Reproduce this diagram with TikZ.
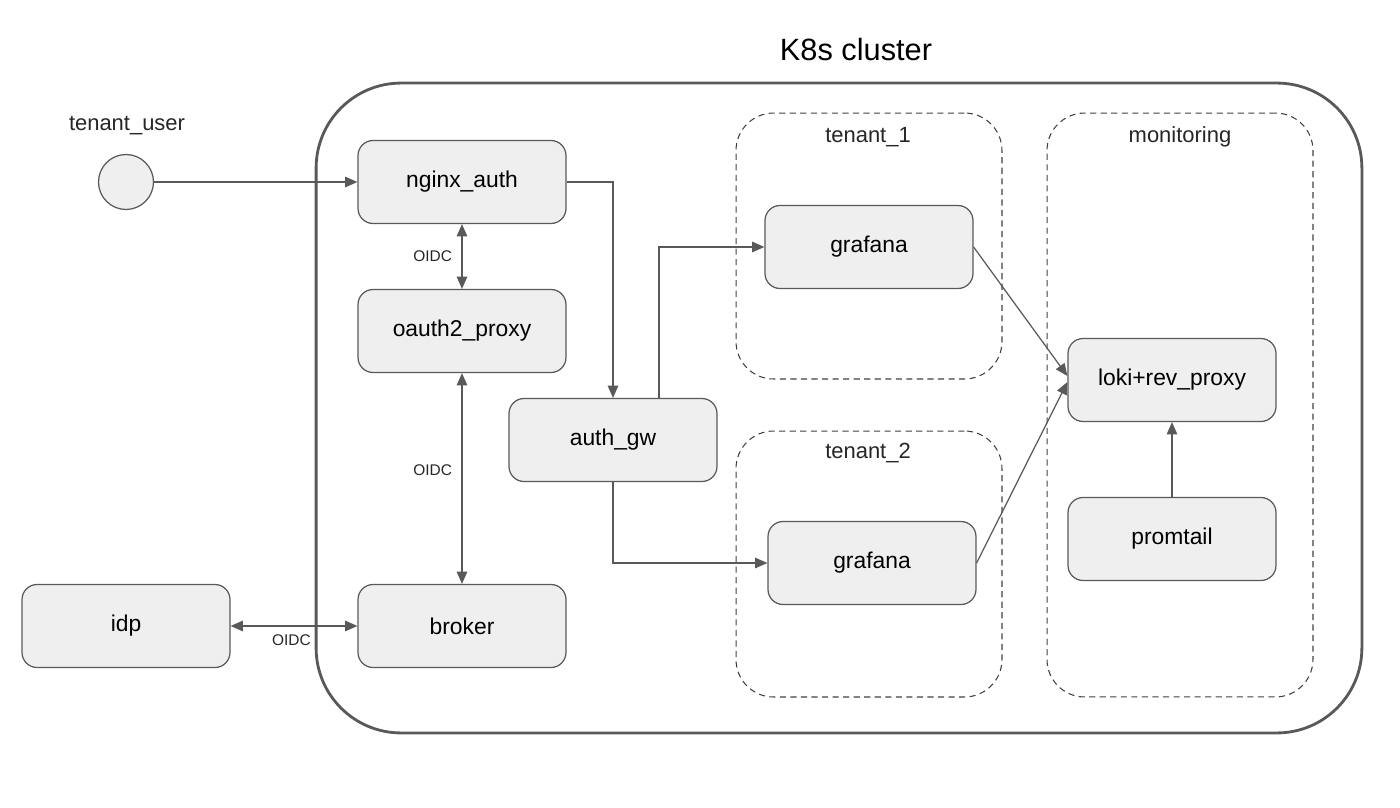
\documentclass[tikz,border=0pt]{standalone}
\usepackage{fontspec}
\setmainfont{Liberation Sans}
\usetikzlibrary{arrows.meta,positioning,calc}
\definecolor{linegray}{HTML}{595959}
\definecolor{boxfill}{HTML}{EFEFEF}

\begin{document}
\begin{tikzpicture}[x=0.02cm, y=-0.02cm,
    box/.style={draw=linegray, fill=boxfill, line width=0.7pt, rounded corners=0.3cm, minimum width=4.16cm, minimum height=1.66cm, font=\fontsize{13}{15}\selectfont},
    group/.style={draw=black!75, dash pattern=on 3.5pt off 2.5pt, line width=0.6pt, rounded corners=0.75cm},
    grouplabel/.style={font=\fontsize{12.5}{15}\selectfont, text=black!85},
    oidc/.style={font=\fontsize{8.8}{10}\selectfont, text=black!85},
    conn/.style={draw=linegray, line width=0.7pt, -{Triangle[length=7pt,width=6pt]}},
    biconn/.style={draw=linegray, line width=0.7pt, {Triangle[length=7pt,width=6pt]}-{Triangle[length=7pt,width=6pt]}}]
      \useasboundingbox (0,0) rectangle (1400,808);

      % cluster and groups
      \node[draw=linegray, line width=1.6pt, rounded corners=1.7cm, minimum width=20.92cm, minimum height=13cm] (k8s) at (839,408) {};
      \node[font=\fontsize{17.5}{20}\selectfont] (k8stitle) at (856,50) {K8s cluster};
      \node[group, minimum width=5.32cm, minimum height=5.32cm] (t1) at (869,246) {};
      \node[group, minimum width=5.32cm, minimum height=5.32cm] (t2) at (869,564) {};
      \node[group, minimum width=5.32cm, minimum height=11.68cm] (mon) at (1180,405) {};
      \node[grouplabel] at (868,137) {tenant\_1};
      \node[grouplabel] at (868,453) {tenant\_2};
      \node[grouplabel] at (1180,137) {monitoring};

      % user
      \node[grouplabel] (userlbl) at (127,126) {tenant\_user};
      \node[draw=linegray, fill=boxfill, line width=0.7pt, circle, minimum size=1.1cm] (user) at (126,182) {};

      % boxes
      \node[box] (nginx) at (462,182) {nginx\_auth};
      \node[box] (oauth) at (462,331) {oauth2\_proxy};
      \node[box] (broker) at (462,626) {broker};
      \node[box] (idp) at (126,626) {idp};
      \node[box] (gw) at (613,440) {auth\_gw};
      \node[box] (graf1) at (869,247) {grafana};
      \node[box] (graf2) at (872,563) {grafana};
      \node[box] (loki) at (1172,380) {loki+rev\_proxy};
      \node[box] (prom) at (1172,539) {promtail};

      % connectors
      \draw[conn] (user) -- (nginx);
      \draw[conn] (nginx.east) -| (gw.north);
      \draw[biconn] (nginx) -- node[oidc, left=2pt] {OIDC} (oauth);
      \draw[biconn] (oauth) -- node[oidc, left=2pt, pos=0.46] {OIDC} (broker);
      \draw[biconn] (idp) -- node[oidc, below=1pt, pos=0.48] {OIDC} (broker);
      \draw[conn] ($(gw.north)+(46,0)$) |- (graf1.west);
      \draw[conn] (gw.south) |- (graf2.west);
      \draw[conn] (graf1.east) -- ($(loki.west)+(0,-4)$);
      \draw[conn] (graf2.east) -- ($(loki.west)+(0,2)$);
      \draw[conn] (prom) -- (loki);
    \end{tikzpicture}
\end{document}
